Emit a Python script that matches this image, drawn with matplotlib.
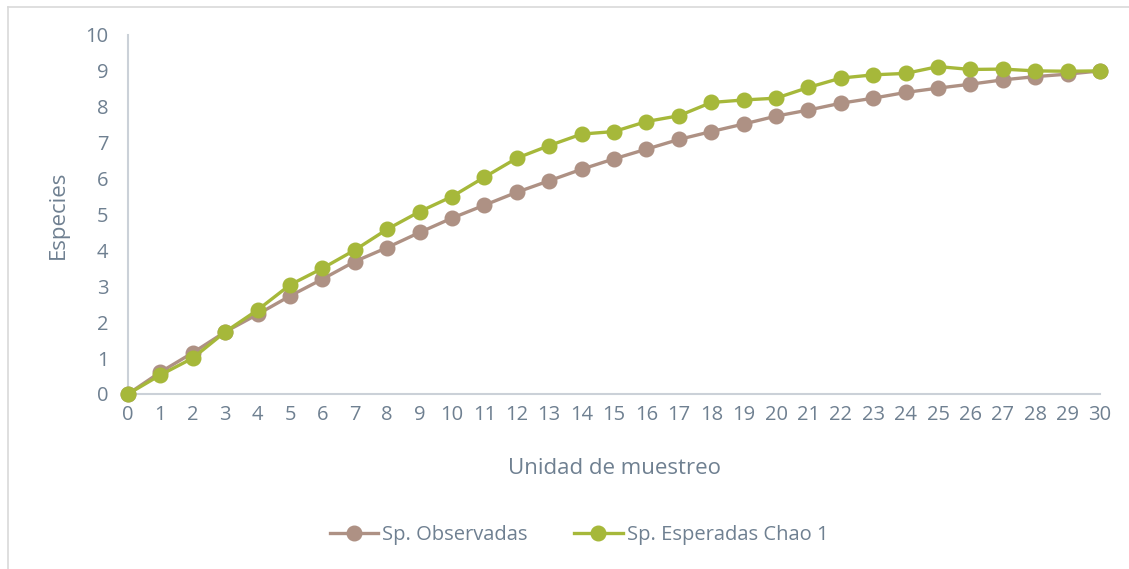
"""
Curva de acumulacion de especies: observadas vs esperadas (Chao 1).
"""
import matplotlib.pyplot as plt
from matplotlib.lines import Line2D

unidades = list(range(0, 31))
sp_observadas = [
    0, 0.61, 1.15, 1.73, 2.22, 2.73, 3.2, 3.69, 4.08, 4.5, 4.9,
    5.26, 5.62, 5.94, 6.26, 6.55, 6.82, 7.09, 7.31, 7.52, 7.74,
    7.91, 8.1, 8.24, 8.4, 8.52, 8.63, 8.75, 8.84, 8.91, 9.0,
]
sp_chao1 = [
    0, 0.53, 1.0, 1.73, 2.34, 3.04, 3.5, 4.01, 4.59, 5.08, 5.5,
    6.04, 6.57, 6.92, 7.24, 7.31, 7.59, 7.75, 8.12, 8.19, 8.24,
    8.54, 8.8, 8.89, 8.93, 9.12, 9.04, 9.05, 9.0, 8.99, 9.0,
]
y_ticks = list(range(0, 11))

brown = "#ae9184"
green = "#a6b83a"
text_color = "#6f8091"
axis_color = "#cbd1d8"

plt.rcParams["font.family"] = ["Open Sans", "DejaVu Sans"]

fig = plt.figure(figsize=(11.29, 5.69), dpi=100)
ax = fig.add_axes([0.1134, 0.3076, 0.861, 0.6309])

ax.plot(unidades, sp_observadas, color=brown, lw=2.4, marker="o",
        markersize=10.5, clip_on=False, zorder=3)
ax.plot(unidades, sp_chao1, color=green, lw=2.4, marker="o",
        markersize=10.5, clip_on=False, zorder=4)

ax.set_xlim(0, 30)
ax.set_ylim(0, 10)
ax.set_xticks(unidades)
ax.set_yticks(y_ticks)
ax.tick_params(length=0, labelsize=14.5, colors=text_color)
ax.tick_params(axis="x", pad=8)
ax.tick_params(axis="y", pad=14)
for s in ["top", "right"]:
    ax.spines[s].set_visible(False)
for s in ["left", "bottom"]:
    ax.spines[s].set_color(axis_color)
    ax.spines[s].set_linewidth(1.5)

ax.set_ylabel("Especies", fontsize=16, color=text_color, labelpad=12)
ax.set_xlabel("Unidad de muestreo", fontsize=16, color=text_color,
              labelpad=24)

handles = [
    Line2D([], [], color=brown, lw=2.4, marker="o", markersize=10.5),
    Line2D([], [], color=green, lw=2.4, marker="o", markersize=10.5),
]
fig.legend(handles, ["Sp. Observadas", "Sp. Esperadas Chao 1"],
           loc="center", bbox_to_anchor=(0.513, 0.06), ncol=2,
           frameon=False, fontsize=14.5, labelcolor=text_color,
           handlelength=2.4, handletextpad=0.2, columnspacing=2.3)

# chart border
fig.add_artist(Line2D([8 / 1129, 1], [1 - 7 / 569, 1 - 7 / 569],
                      color="#d9d9d9", lw=1.2))
fig.add_artist(Line2D([8 / 1129, 8 / 1129], [0, 1 - 7 / 569],
                      color="#d9d9d9", lw=1.2))

fig.savefig("out.png", dpi=100)
